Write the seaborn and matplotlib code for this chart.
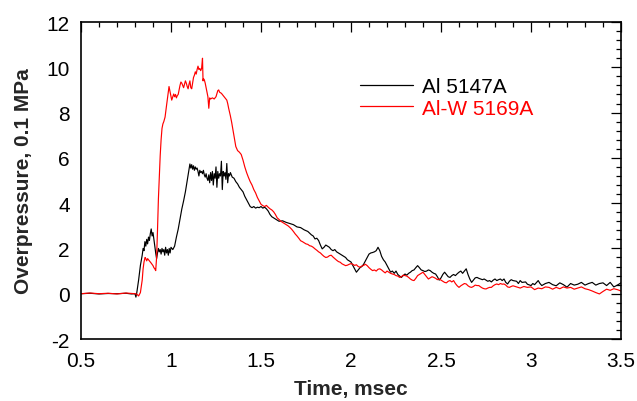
import numpy as np
import pandas as pd
import seaborn as sns
import matplotlib
matplotlib.use("Agg")
import matplotlib.pyplot as plt
from matplotlib.ticker import MultipleLocator
from matplotlib.lines import Line2D

# ---- data ----
series_names = ["Al 5147A", "Al-W 5169A"]
series_colors = ["black", "red"]

t_black = [0.50, 0.55, 0.60, 0.65, 0.70, 0.75, 0.78, 0.80, 0.805, 0.81, 0.82, 0.83, 0.84, 0.845, 0.85, 0.855,
           0.86, 0.865, 0.87, 0.875, 0.88, 0.885, 0.89, 0.895, 0.90, 0.905, 0.91, 0.915, 0.92, 0.925, 0.93,
           0.935, 0.94, 0.945, 0.95, 0.955, 0.96, 0.965, 0.97, 0.975, 0.98, 0.985, 0.99, 0.995, 1.00, 1.01,
           1.02, 1.03, 1.04, 1.05, 1.06, 1.07, 1.08, 1.09, 1.10, 1.105, 1.11, 1.115, 1.12, 1.125, 1.13, 1.135,
           1.14, 1.145, 1.15, 1.155, 1.16, 1.165, 1.17, 1.175, 1.18, 1.185, 1.19, 1.195, 1.20, 1.205, 1.21,
           1.215, 1.22, 1.225, 1.23, 1.235, 1.24, 1.245, 1.25, 1.255, 1.26, 1.265, 1.27, 1.275, 1.28, 1.285,
           1.29, 1.295, 1.30, 1.305, 1.31, 1.315, 1.32, 1.325, 1.33, 1.34, 1.35, 1.36, 1.37, 1.38, 1.39, 1.40,
           1.41, 1.42, 1.43, 1.44, 1.45, 1.46, 1.47, 1.48, 1.49, 1.50, 1.51, 1.52, 1.53, 1.54, 1.55, 1.56,
           1.57, 1.58, 1.59, 1.60, 1.62, 1.64, 1.66, 1.68, 1.70, 1.72, 1.74, 1.76, 1.78, 1.79, 1.80, 1.81,
           1.82, 1.83, 1.84, 1.85, 1.86, 1.87, 1.88, 1.89, 1.90, 1.91, 1.92, 1.93, 1.94, 1.95, 1.96, 1.97,
           1.98, 1.99, 2.00, 2.01, 2.02, 2.03, 2.04, 2.05, 2.06, 2.07, 2.08, 2.09, 2.10, 2.11, 2.12, 2.13,
           2.14, 2.15, 2.16, 2.17, 2.18, 2.19, 2.20, 2.21, 2.22, 2.23, 2.24, 2.25, 2.26, 2.27, 2.28, 2.29,
           2.30, 2.31, 2.32, 2.33, 2.34, 2.35, 2.36, 2.37, 2.38, 2.39, 2.40, 2.41, 2.42, 2.43, 2.44, 2.45,
           2.46, 2.47, 2.48, 2.49, 2.50, 2.51, 2.52, 2.53, 2.54, 2.55, 2.56, 2.57, 2.58, 2.59, 2.60, 2.61,
           2.62, 2.63, 2.64, 2.65, 2.66, 2.67, 2.68, 2.69, 2.70, 2.71, 2.72, 2.73, 2.74, 2.75, 2.76, 2.77,
           2.78, 2.79, 2.80, 2.81, 2.82, 2.83, 2.84, 2.85, 2.86, 2.87, 2.88, 2.89, 2.90, 2.92, 2.93, 2.94,
           2.95, 2.97, 2.98, 3.00, 3.01, 3.02, 3.04, 3.05, 3.06, 3.08, 3.10, 3.12, 3.14, 3.16, 3.18, 3.20,
           3.22, 3.24, 3.26, 3.28, 3.30, 3.32, 3.34, 3.36, 3.38, 3.40, 3.42, 3.44, 3.46, 3.48, 3.50]
p_black = [0.00, 0.02, -0.01, 0.01, 0.00, 0.02, -0.01, 0.00, -0.15, 0.05, 0.60, 1.25, 1.70, 2.00, 1.90, 2.30,
           2.10, 2.40, 2.20, 2.50, 2.35, 2.65, 2.86, 2.55, 2.70, 2.40, 2.10, 1.80, 1.55, 1.80, 2.00,
           1.85, 1.95, 1.75, 2.00, 1.85, 1.95, 1.70, 2.05, 1.80, 1.95, 1.70, 2.00, 1.80, 2.05, 1.95,
           2.10, 2.50, 2.85, 3.30, 3.74, 4.10, 4.50, 5.00, 5.50, 5.73, 5.55, 5.70, 5.50, 5.65, 5.45, 5.60,
           5.50, 5.55, 5.40, 5.20, 5.45, 5.35, 5.40, 5.30, 5.45, 5.25, 5.15, 5.30, 5.10, 5.00, 5.25,
           4.90, 5.35, 5.00, 5.40, 4.80, 5.30, 5.10, 5.60, 4.70, 5.40, 5.10, 5.30, 5.20, 5.85, 4.60,
           5.40, 5.20, 5.35, 5.05, 5.75, 4.90, 5.30, 5.20, 5.35, 5.15, 5.10, 4.95, 4.85, 4.70, 4.60, 4.50,
           4.30, 4.15, 4.00, 3.85, 3.80, 3.85, 3.78, 3.82, 3.80, 3.85, 3.78, 3.82, 3.75, 3.65, 3.50, 3.40,
           3.35, 3.30, 3.25, 3.20, 3.22, 3.15, 3.10, 3.05, 2.95, 2.92, 2.82, 2.75, 2.60, 2.55, 2.42, 2.45,
           2.35, 2.15, 1.98, 2.05, 2.15, 2.10, 2.05, 1.95, 1.90, 1.95, 1.85, 1.80, 1.75, 1.70, 1.65, 1.60,
           1.50, 1.45, 1.40, 1.25, 1.10, 0.95, 1.05, 1.15, 1.20, 1.30, 1.45, 1.60, 1.75, 1.80, 1.82, 1.85,
           1.90, 2.05, 1.90, 1.65, 1.50, 1.40, 1.25, 1.10, 0.95, 1.00, 0.90, 1.00, 0.85, 0.78, 0.72, 0.80,
           0.87, 0.82, 0.90, 0.95, 1.02, 1.05, 1.15, 1.24, 1.15, 1.05, 1.02, 0.98, 1.00, 1.05, 1.02, 0.95,
           0.90, 0.87, 0.75, 0.60, 0.70, 0.85, 0.95, 0.85, 0.75, 0.72, 0.80, 0.85, 0.80, 0.88, 0.95, 1.00,
           0.90, 1.00, 1.10, 0.85, 0.65, 0.50, 0.60, 0.70, 0.72, 0.68, 0.65, 0.62, 0.65, 0.60, 0.55, 0.58,
           0.52, 0.60, 0.65, 0.58, 0.62, 0.65, 0.58, 0.65, 0.50, 0.43, 0.55, 0.62, 0.58, 0.55, 0.45, 0.58,
           0.50, 0.52, 0.42, 0.36, 0.45, 0.40, 0.58, 0.45, 0.36, 0.45, 0.50, 0.40, 0.35, 0.48, 0.40, 0.29,
           0.45, 0.38, 0.42, 0.50, 0.38, 0.45, 0.50, 0.38, 0.45, 0.48, 0.36, 0.50, 0.30, 0.38, 0.48]

t_red = [0.50, 0.55, 0.60, 0.65, 0.70, 0.75, 0.80, 0.81, 0.82, 0.83, 0.84, 0.845, 0.85, 0.856, 0.86, 0.865,
         0.87, 0.875, 0.88, 0.89, 0.90, 0.905, 0.91, 0.915, 0.92, 0.925, 0.93, 0.935, 0.94, 0.945, 0.95,
         0.955, 0.96, 0.967, 0.97, 0.975, 0.98, 0.985, 0.989, 0.995, 1.00, 1.004, 1.01, 1.015, 1.02, 1.025,
         1.03, 1.035, 1.04, 1.045, 1.05, 1.055, 1.06, 1.065, 1.07, 1.075, 1.08, 1.085, 1.09, 1.095, 1.10,
         1.105, 1.11, 1.115, 1.12, 1.125, 1.13, 1.135, 1.14, 1.145, 1.15, 1.155, 1.16, 1.165, 1.17, 1.175,
         1.178, 1.18, 1.185, 1.19, 1.195, 1.20, 1.205, 1.21, 1.215, 1.22, 1.23, 1.24, 1.25, 1.26, 1.265,
         1.27, 1.28, 1.29, 1.30, 1.31, 1.315, 1.32, 1.33, 1.337, 1.345, 1.355, 1.36, 1.37, 1.38, 1.39, 1.40,
         1.41, 1.42, 1.43, 1.44, 1.45, 1.46, 1.47, 1.48, 1.49, 1.50, 1.51, 1.52, 1.53, 1.54, 1.55, 1.56,
         1.57, 1.58, 1.59, 1.60, 1.61, 1.62, 1.63, 1.64, 1.65, 1.66, 1.67, 1.68, 1.69, 1.70, 1.71, 1.72,
         1.73, 1.74, 1.75, 1.76, 1.77, 1.78, 1.79, 1.80, 1.81, 1.82, 1.83, 1.84, 1.85, 1.86, 1.87, 1.88,
         1.89, 1.90, 1.91, 1.92, 1.93, 1.94, 1.95, 1.96, 1.97, 1.98, 1.99, 2.00, 2.01, 2.02, 2.03, 2.04,
         2.05, 2.06, 2.07, 2.08, 2.09, 2.10, 2.11, 2.12, 2.13, 2.14, 2.15, 2.16, 2.17, 2.18, 2.19, 2.20,
         2.21, 2.22, 2.23, 2.24, 2.25, 2.26, 2.27, 2.28, 2.29, 2.30, 2.31, 2.32, 2.33, 2.34, 2.35, 2.36,
         2.37, 2.38, 2.39, 2.40, 2.41, 2.42, 2.43, 2.44, 2.45, 2.46, 2.47, 2.48, 2.49, 2.50, 2.51, 2.52,
         2.53, 2.54, 2.55, 2.56, 2.57, 2.58, 2.59, 2.60, 2.61, 2.62, 2.63, 2.64, 2.65, 2.66, 2.67, 2.68,
         2.69, 2.70, 2.71, 2.72, 2.73, 2.74, 2.75, 2.76, 2.77, 2.78, 2.79, 2.80, 2.81, 2.82, 2.83, 2.84,
         2.85, 2.86, 2.87, 2.88, 2.89, 2.90, 2.92, 2.94, 2.96, 2.98, 3.00, 3.02, 3.04, 3.06, 3.08, 3.10,
         3.12, 3.14, 3.16, 3.18, 3.20, 3.22, 3.24, 3.26, 3.28, 3.30, 3.32, 3.34, 3.36, 3.38, 3.40, 3.42,
         3.44, 3.46, 3.48, 3.50]
p_red = [0.00, 0.03, 0.00, 0.02, -0.01, 0.03, 0.00, -0.02, -0.10, 0.05, 0.60, 1.10, 1.40, 1.60, 1.55, 1.45,
         1.55, 1.50, 1.45, 1.35, 1.24, 1.15, 1.10, 1.02, 1.60, 2.80, 4.18, 5.20, 6.10, 6.80, 7.30,
         7.50, 7.60, 7.80, 8.00, 8.30, 8.60, 8.90, 9.15, 8.90, 8.70, 8.55, 8.70, 8.82, 8.70, 8.80,
         8.65, 8.75, 8.80, 9.00, 9.20, 9.35, 9.30, 9.20, 9.10, 9.25, 9.40, 9.30, 9.15, 9.05, 9.25,
         9.40, 9.10, 9.05, 9.30, 9.55, 9.65, 9.80, 9.70, 9.90, 10.05, 9.90, 9.95, 9.85, 9.95, 10.40,
         9.40, 9.50, 9.45, 9.30, 9.10, 8.90, 8.70, 8.19, 8.65, 8.60, 8.65, 8.60, 8.70, 8.97, 9.00,
         8.90, 8.85, 8.75, 8.65, 8.55, 8.40, 8.20, 7.85, 7.57, 7.20, 6.76, 6.50, 6.32, 6.25, 6.15, 5.90,
         5.60, 5.35, 5.14, 4.95, 4.80, 4.60, 4.45, 4.25, 4.10, 3.95, 3.89, 3.85, 3.90, 3.82, 3.75, 3.70,
         3.62, 3.50, 3.35, 3.28, 3.20, 3.15, 3.10, 3.05, 3.00, 2.93, 2.85, 2.75, 2.64, 2.55, 2.45, 2.34,
         2.30, 2.25, 2.20, 2.18, 2.12, 2.10, 2.05, 1.98, 1.92, 1.85, 1.80, 1.72, 1.65, 1.60, 1.62, 1.68,
         1.70, 1.62, 1.55, 1.48, 1.42, 1.39, 1.32, 1.28, 1.24, 1.26, 1.30, 1.33, 1.30, 1.25, 1.28, 1.20,
         1.17, 1.22, 1.25, 1.30, 1.24, 1.15, 1.08, 1.02, 1.05, 1.00, 1.08, 1.10, 1.05, 0.98, 0.92, 1.00,
         0.95, 0.90, 0.87, 0.85, 0.80, 0.78, 0.72, 0.75, 0.82, 0.80, 0.78, 0.72, 0.65, 0.60, 0.58, 0.68,
         0.80, 0.85, 0.90, 0.95, 0.85, 0.75, 0.65, 0.70, 0.75, 0.72, 0.68, 0.62, 0.65, 0.60, 0.55, 0.50,
         0.48, 0.55, 0.58, 0.52, 0.58, 0.45, 0.35, 0.28, 0.35, 0.40, 0.45, 0.43, 0.35, 0.30, 0.28, 0.32,
         0.38, 0.36, 0.36, 0.30, 0.25, 0.22, 0.21, 0.25, 0.28, 0.28, 0.35, 0.40, 0.43, 0.40, 0.45, 0.42,
         0.43, 0.38, 0.30, 0.28, 0.32, 0.35, 0.30, 0.25, 0.32, 0.28, 0.30, 0.18, 0.25, 0.22, 0.30, 0.28,
         0.20, 0.28, 0.22, 0.30, 0.25, 0.28, 0.20, 0.25, 0.30, 0.22, 0.18, 0.12, 0.05, -0.01, 0.10, 0.20,
         0.15, 0.22, 0.18, 0.12]

x_ticks = [0.5, 1, 1.5, 2, 2.5, 3, 3.5]
y_ticks = [-2, 0, 2, 4, 6, 8, 10, 12]

df = pd.concat([
    pd.DataFrame({"t": t_black, "p": p_black, "s": series_names[0]}),
    pd.DataFrame({"t": t_red, "p": p_red, "s": series_names[1]}),
], ignore_index=True)

sns.set_style("white")
plt.rcParams["font.family"] = ["Liberation Sans", "DejaVu Sans"]

fig = plt.figure(figsize=(6.37, 4.02), dpi=100)
ax = fig.add_axes([81 / 637, 1 - 340 / 402, 540 / 637, 317 / 402])

sns.lineplot(data=df, x="t", y="p", hue="s", palette=dict(zip(series_names, series_colors)),
             sort=False, estimator=None, linewidth=0.85, ax=ax, legend=False)

ax.set_xlim(0.5, 3.5)
ax.set_ylim(-2, 12)
ax.set_xticks(x_ticks)
ax.set_xticklabels([f"{v:g}" for v in x_ticks])
ax.set_yticks(y_ticks)
ax.set_yticklabels([f"{v:g}" for v in y_ticks])
ax.xaxis.set_minor_locator(MultipleLocator(0.1))
ax.yaxis.set_minor_locator(MultipleLocator(0.4))
ax.tick_params(which="both", direction="in", top=True, right=True, colors="black",
               labelsize=15, width=0.9)
ax.tick_params(which="major", length=7.5)
ax.tick_params(axis="x", which="major", pad=9)
ax.tick_params(axis="y", which="major", pad=8)
ax.tick_params(which="minor", length=3.5)
for sp in ax.spines.values():
    sp.set_color("black")
    sp.set_linewidth(1.2)

ax.set_xlabel("Time, msec", fontsize=15, fontweight="bold", labelpad=6)
ax.set_ylabel("Overpressure, 0.1 MPa", fontsize=15, fontweight="bold", labelpad=10)

handles = [Line2D([], [], color=c, lw=0.9) for c in series_colors]
leg = ax.legend(handles, series_names, loc="upper left", bbox_to_anchor=(0.482, 0.885),
                frameon=False, fontsize=15, handlelength=2.55, handletextpad=0.43,
                labelspacing=0.12)
for txt, c in zip(leg.get_texts(), series_colors):
    txt.set_color(c)

fig.savefig("out.png", dpi=100)
